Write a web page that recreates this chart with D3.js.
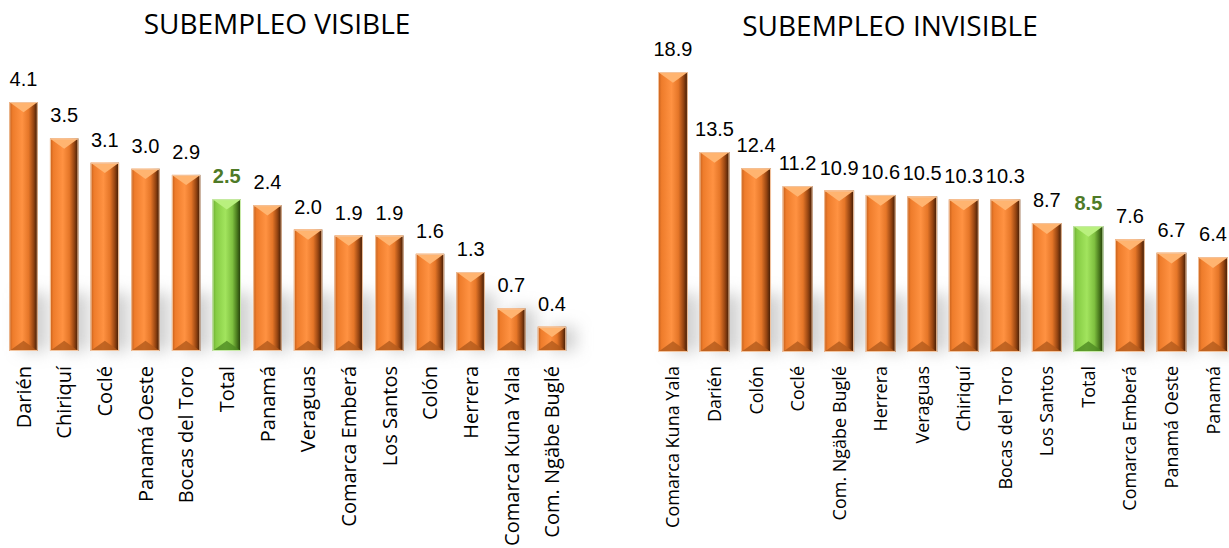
<!DOCTYPE html>
<html><head><meta charset="utf-8">
<script src="https://cdn.jsdelivr.net/npm/d3@7/dist/d3.min.js"></script>
<style>html,body{margin:0;padding:0;background:#fff;}svg{display:block;}</style>
</head><body>
<svg id="c" width="1229" height="548"></svg>
<script>
const visibleCats = ["Darién","Chiriquí","Coclé","Panamá Oeste","Bocas del Toro","Total","Panamá","Veraguas","Comarca Emberá","Los Santos","Colón","Herrera","Comarca Kuna Yala","Com. Ngäbe Buglé"];
const visibleVals = [4.1,3.5,3.1,3.0,2.9,2.5,2.4,2.0,1.9,1.9,1.6,1.3,0.7,0.4];
const invisibleCats = ["Comarca Kuna Yala","Darién","Colón","Coclé","Com. Ngäbe Buglé","Herrera","Veraguas","Chiriquí","Bocas del Toro","Los Santos","Total","Comarca Emberá","Panamá Oeste","Panamá"];
const invisibleVals = [18.9,13.5,12.4,11.2,10.9,10.6,10.5,10.3,10.3,8.7,8.5,7.6,6.7,6.4];
const titles = ["SUBEMPLEO VISIBLE","SUBEMPLEO INVISIBLE"];

const svg = d3.select("#c");
const defs = svg.append("defs");
function grad(id, stops){
  const g = defs.append("linearGradient").attr("id",id).attr("x1","0%").attr("x2","100%").attr("y1","0%").attr("y2","0%");
  stops.forEach(s=>g.append("stop").attr("offset",s[0]).attr("stop-color",s[1]));
}
grad("gO",[["0%","#c25d1a"],["12%","#ee7c2b"],["45%","#ff9242"],["68%","#e57628"],["85%","#964512"],["100%","#361603"]]);
grad("gG",[["0%","#6aaa30"],["12%","#86cc44"],["45%","#a2e45e"],["70%","#7fc040"],["86%","#4a7a1e"],["100%","#1e3308"]]);
const f = defs.append("filter").attr("id","blur").attr("x","-50%").attr("y","-50%").attr("width","200%").attr("height","200%");
f.append("feGaussianBlur").attr("stdDeviation",8);

function chart(cats, vals, cfg){
  const x = d3.scaleBand().domain(cats).range(cfg.xr).paddingInner(cfg.pi).paddingOuter(cfg.pi/2);
  const y = d3.scaleLinear().domain([0, d3.max(vals)]).range([cfg.base, cfg.top]);
  const data = cats.map((c,i)=>({c, v:vals[i], total:c==="Total"}));
  const g = svg.append("g");
  const bw = x.bandwidth();
  // shadow
  g.append("g").attr("filter","url(#blur)").selectAll("rect").data(data).join("rect")
    .attr("x", d=>x(d.c)+bw*0.4).attr("width", bw*0.95)
    .attr("y", d=>Math.max(y(d.v), cfg.base-58)).attr("height", d=>cfg.base - Math.max(y(d.v), cfg.base-58))
    .attr("fill","#a0a0a0").attr("opacity",0.5);
  const bars = g.selectAll("g.bar").data(data).join("g").attr("class","bar");
  bars.append("rect").attr("x", d=>x(d.c)).attr("width", bw)
    .attr("y", d=>y(d.v)).attr("height", d=>cfg.base-y(d.v))
    .attr("fill", d=>d.total?"url(#gG)":"url(#gO)");
  const dep = bw*0.36;
  bars.append("path").attr("d", d=>{const x0=x(d.c), t=y(d.v), h=cfg.base-t, dd=Math.min(dep,h/2);
      return `M${x0},${t}L${x0+bw},${t}L${x0+bw/2},${t+dd}Z`;})
    .attr("fill", d=>d.total?"#b9f07e":"#ffb470");
  bars.append("path").attr("d", d=>{const x0=x(d.c), t=y(d.v), h=cfg.base-t, dd=Math.min(dep,h/2);
      return `M${x0},${cfg.base}L${x0+bw},${cfg.base}L${x0+bw/2},${cfg.base-dd}Z`;})
    .attr("fill", d=>d.total?"#4e8a22":"#b35a1c").attr("opacity",0.8);
  bars.append("rect").attr("x", d=>x(d.c)+0.5).attr("width", bw-1)
    .attr("y", d=>y(d.v)+0.5).attr("height", d=>cfg.base-y(d.v)-1)
    .attr("fill","none").attr("stroke", d=>d.total?"#c8eaa8":"#f3c49e").attr("stroke-width",1);
  // value labels
  g.selectAll("text.v").data(data).join("text").attr("class","v")
    .attr("x", d=>x(d.c)+bw/2).attr("y", d=>y(d.v)-16)
    .attr("text-anchor","middle").attr("font-family","'Liberation Sans', Arial, sans-serif")
    .attr("font-size",20).attr("font-weight", d=>d.total?"bold":"normal")
    .attr("fill", d=>d.total?"#4e7a27":"#000")
    .text(d=>d.v.toFixed(1));
  // category labels
  g.selectAll("text.c").data(data).join("text").attr("class","c")
    .attr("transform", d=>`translate(${x(d.c)+bw/2},${cfg.labY}) rotate(-90)`)
    .attr("dy","0.36em").attr("text-anchor","end")
    .attr("font-family","'Open Sans', sans-serif").attr("font-size",cfg.labFs).attr("fill","#000")
    .text(d=>d.c);
  // title
  svg.append("text").attr("x",cfg.tx).attr("y",cfg.ty).attr("text-anchor","middle")
    .attr("font-family","'Open Sans', sans-serif").attr("font-size",28).attr("fill","#000").text(cfg.title);
}
chart(visibleCats, visibleVals, {xr:[3.2,572.3], pi:0.3, base:351, top:102, labY:366, labFs:20, tx:277, ty:34, title:titles[0]});
chart(invisibleCats, invisibleVals, {xr:[652.2,1233.8], pi:0.28, base:352, top:72, labY:366, labFs:18, tx:890, ty:36, title:titles[1]});
</script>
</body></html>
